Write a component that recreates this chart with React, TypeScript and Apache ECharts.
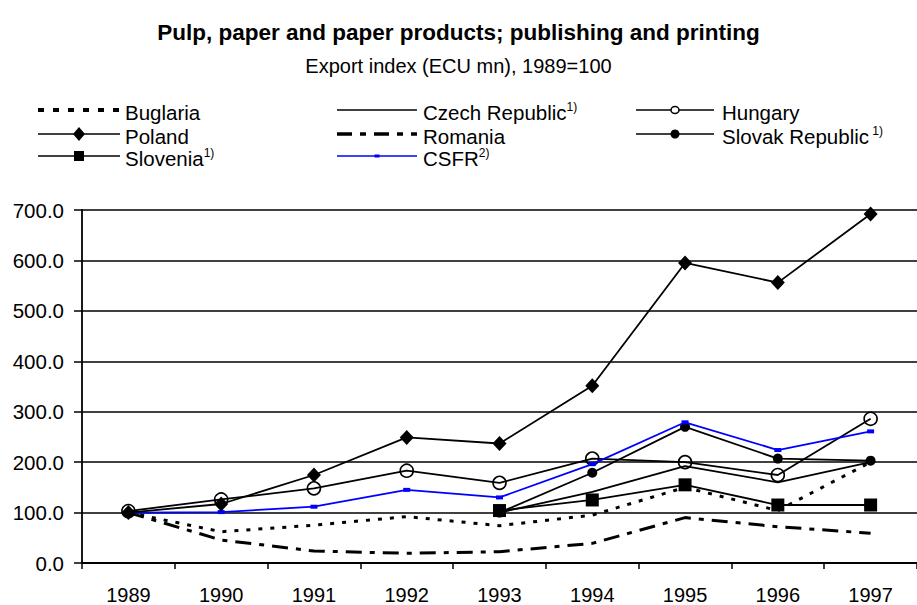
import React, { useEffect, useRef } from 'react';
import * as echarts from 'echarts';

// ---- data ----
const years = ['1989', '1990', '1991', '1992', '1993', '1994', '1995', '1996', '1997'];
const bulgaria = [100, 62, 75, 92, 74, 95, 150, 104, 200];
const czechRepublic = [null, null, null, null, 100, 141, 192, 160, 200];
const hungary = [103, 126, 148, 183, 159, 207, 200, 174.5, 286];
const poland = [100, 117, 174.5, 249, 237, 351.5, 595, 556, 692];
const romania = [100, 45.6, 23.8, 19.2, 22.4, 39, 90, 72, 59];
const slovakRepublic = [null, null, null, null, 100, 179, 270, 207, 203];
const slovenia = [null, null, null, null, 104, 125, 155, 115, 115];
const csfr = [100, 101, 111.6, 145, 130, 196, 279, 224, 261];
const yMin = 0;
const yMax = 700;
const yStep = 100;

const titleText = 'Pulp, paper and paper products; publishing and printing';
const subtitleText = 'Export index (ECU mn), 1989=100';

const FONT = '"Liberation Sans", Arial, Helvetica, sans-serif';
const BLACK = '#000000';
const BLUE = '#0000ff';

type LegendKind = 'dot' | 'plain' | 'circleOpen' | 'diamond' | 'dashdot' | 'circleFilled' | 'square' | 'csfr';
const legendEntries: { name: string; sup: string; col: number; row: number; kind: LegendKind }[] = [
  { name: 'Buglaria', sup: '', col: 0, row: 0, kind: 'dot' },
  { name: 'Czech Republic', sup: '1)', col: 1, row: 0, kind: 'plain' },
  { name: 'Hungary', sup: '', col: 2, row: 0, kind: 'circleOpen' },
  { name: 'Poland', sup: '', col: 0, row: 1, kind: 'diamond' },
  { name: 'Romania', sup: '', col: 1, row: 1, kind: 'dashdot' },
  { name: 'Slovak Republic', sup: ' 1)', col: 2, row: 1, kind: 'circleFilled' },
  { name: 'Slovenia', sup: '1)', col: 0, row: 2, kind: 'square' },
  { name: 'CSFR', sup: '2)', col: 1, row: 2, kind: 'csfr' },
];

function buildLegend(): any[] {
  const colX = [38, 337, 636];
  const colEnd = [120, 417, 714];
  const textX = [125, 423, 722];
  const rowY = [110, 134, 156];
  const els: any[] = [];
  legendEntries.forEach((e) => {
    const x1 = colX[e.col];
    const x2 = colEnd[e.col];
    const y = rowY[e.row];
    const mx = (x1 + x2) / 2;
    let lineStyle: any = { stroke: BLACK, lineWidth: 1.5 };
    if (e.kind === 'dot') lineStyle = { stroke: BLACK, lineWidth: 4, lineDash: [6, 9] };
    if (e.kind === 'dashdot') lineStyle = { stroke: BLACK, lineWidth: 3.5, lineDash: [15, 8, 6, 8] };
    if (e.kind === 'csfr') lineStyle = { stroke: BLUE, lineWidth: 1.5 };
    els.push({ type: 'line', shape: { x1, y1: y, x2, y2: y }, style: lineStyle, silent: true });
    if (e.kind === 'diamond') {
      els.push({
        type: 'polygon',
        shape: { points: [[mx, y - 7], [mx + 6, y], [mx, y + 7], [mx - 6, y]] },
        style: { fill: BLACK },
      });
    } else if (e.kind === 'square') {
      els.push({ type: 'rect', shape: { x: mx - 5, y: y - 5, width: 10, height: 10 }, style: { fill: BLACK } });
    } else if (e.kind === 'circleOpen') {
      els.push({
        type: 'ellipse',
        shape: { cx: mx, cy: y, rx: 4, ry: 3.5 },
        style: { fill: '#ffffff', stroke: BLACK, lineWidth: 1.5 },
      });
    } else if (e.kind === 'circleFilled') {
      els.push({ type: 'circle', shape: { cx: mx, cy: y, r: 4.5 }, style: { fill: BLACK } });
    } else if (e.kind === 'csfr') {
      els.push({ type: 'rect', shape: { x: mx - 2.5, y: y - 1.5, width: 5, height: 3 }, style: { fill: BLUE } });
    }
    els.push({
      type: 'text',
      x: textX[e.col],
      y: y + 2,
      style: {
        text: e.sup ? `{a|${e.name}}{s|${e.sup}}` : `{a|${e.name}}`,
        verticalAlign: 'middle',
        align: 'left',
        fill: BLACK,
        rich: {
          a: { fontSize: 20.5, fontFamily: FONT, fill: BLACK, lineHeight: 22 },
          s: { fontSize: 12, fontFamily: FONT, fill: BLACK, verticalAlign: 'top', lineHeight: 13 },
        },
      },
    });
  });
  return els;
}

export default function App() {
  const ref = useRef<HTMLDivElement>(null);
  useEffect(() => {
    if (!ref.current) return;
    const chart = echarts.init(ref.current, undefined, { renderer: 'svg' });
    const option: any = {
      animation: false,
      backgroundColor: '#ffffff',
      textStyle: { fontFamily: FONT, color: BLACK },
      title: [
        {
          text: titleText,
          left: 'center',
          top: 16,
          textStyle: { fontSize: 22.5, fontWeight: 'bold', color: BLACK, fontFamily: FONT },
        },
        {
          text: subtitleText,
          left: 'center',
          top: 51,
          textStyle: { fontSize: 20, fontWeight: 'normal', color: BLACK, fontFamily: FONT },
        },
      ],
      grid: { left: 82, top: 210, width: 844, height: 353, containLabel: false },
      xAxis: {
        type: 'category',
        data: years,
        boundaryGap: true,
        axisLine: { show: true, lineStyle: { color: BLACK, width: 1.8 } },
        axisTick: { show: true, length: 6, lineStyle: { color: BLACK, width: 1.5 } },
        axisLabel: { fontSize: 20, color: BLACK, fontFamily: FONT, margin: 22 },
        splitLine: { show: false },
      },
      yAxis: {
        type: 'value',
        min: yMin,
        max: yMax,
        interval: yStep,
        axisLine: { show: true, lineStyle: { color: BLACK, width: 1.8 } },
        axisTick: { show: true, length: 8, lineStyle: { color: BLACK, width: 1.5 } },
        axisLabel: {
          fontSize: 20.5,
          color: BLACK,
          fontFamily: FONT,
          margin: 18,
          formatter: (v: number) => v.toFixed(1),
        },
        splitLine: { show: true, lineStyle: { color: BLACK, width: 1.6 } },
      },
      series: [
        {
          name: 'Buglaria',
          type: 'line',
          data: bulgaria,
          symbol: 'none',
          lineStyle: { color: BLACK, width: 3, type: [4, 8] },
          itemStyle: { color: BLACK },
          z: 2,
        },
        {
          name: 'Romania',
          type: 'line',
          data: romania,
          symbol: 'none',
          lineStyle: { color: BLACK, width: 3, type: [16, 8, 5, 8] },
          itemStyle: { color: BLACK },
          z: 2,
        },
        {
          name: 'Czech Republic',
          type: 'line',
          data: czechRepublic,
          symbol: 'none',
          lineStyle: { color: BLACK, width: 1.8 },
          itemStyle: { color: BLACK },
          z: 3,
        },
        {
          name: 'Slovenia',
          type: 'line',
          data: slovenia,
          symbol: 'rect',
          symbolSize: 13,
          lineStyle: { color: BLACK, width: 1.8 },
          itemStyle: { color: BLACK },
          z: 4,
        },
        {
          name: 'Slovak Republic',
          type: 'line',
          data: slovakRepublic,
          symbol: 'circle',
          symbolSize: 10,
          lineStyle: { color: BLACK, width: 1.8 },
          itemStyle: { color: BLACK },
          z: 4,
        },
        {
          name: 'Hungary',
          type: 'line',
          data: hungary,
          symbol: 'circle',
          symbolSize: 13,
          lineStyle: { color: BLACK, width: 1.8 },
          itemStyle: { color: 'rgba(0,0,0,0)', borderColor: BLACK, borderWidth: 1.6 },
          z: 4,
        },
        {
          name: 'CSFR',
          type: 'line',
          data: csfr,
          symbol: 'rect',
          symbolSize: [7, 4],
          lineStyle: { color: BLUE, width: 1.8 },
          itemStyle: { color: BLUE },
          z: 5,
        },
        {
          name: 'Poland',
          type: 'line',
          data: poland,
          symbol: 'diamond',
          symbolSize: [14, 15],
          lineStyle: { color: BLACK, width: 1.8 },
          itemStyle: { color: BLACK },
          z: 5,
        },
      ],
      graphic: buildLegend(),
    };
    chart.setOption(option);
    return () => {
      chart.dispose();
    };
  }, []);
  return (
    <div
      ref={ref}
      style={{ position: 'fixed', left: 0, top: 0, width: 917, height: 605, background: '#fff' }}
    />
  );
}
